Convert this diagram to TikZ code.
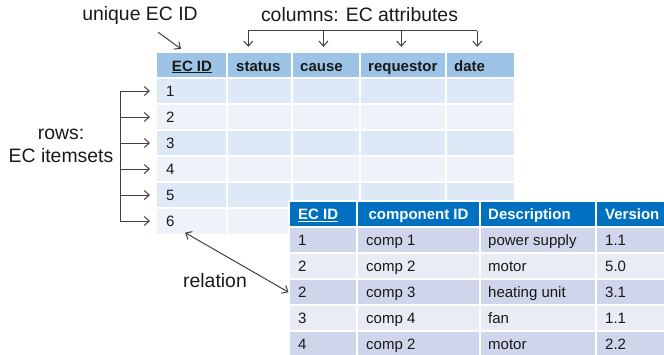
\documentclass[tikz,border=0pt]{standalone}
\usepackage{fontspec}
\setmainfont{Liberation Sans}
\usetikzlibrary{arrows.meta}
\definecolor{tophead}{HTML}{9DC3E6}
\definecolor{toprowA}{HTML}{DDE9F6}
\definecolor{toprowB}{HTML}{EEF3FA}
\definecolor{bothead}{HTML}{0070C0}
\definecolor{botrowA}{HTML}{CFD5EA}
\definecolor{botrowB}{HTML}{E9EBF5}
\definecolor{linegray}{HTML}{404040}
\tikzset{
	celltxt/.style={inner sep=0pt, anchor=west, text height=11pt, text depth=0pt, text=black!90, font=\fontsize{15}{18}\selectfont},
	headtxt/.style={celltxt, font=\fontsize{15}{18}\selectfont\bfseries},
	bighead/.style={headtxt, text=white},
	note/.style={inner sep=0pt, text=black!90, font=\fontsize{19.4}{23}\selectfont},
	gridline/.style={white, line width=1.5pt},
	conn/.style={linegray, line width=1pt},
	arr/.style={conn, -{Straight Barb[length=5pt,width=9pt]}},
}

\begin{document}
\begin{tikzpicture}[x=1pt, y=-1pt]
	%%%%% START %%%%%
	\useasboundingbox (0,0) rectangle (664,354);
	\clip (0,0) rectangle (664,354);
	
	% EC table
	\fill[tophead] (157,53) rectangle (514,78);
	\foreach \i in {1,...,6} {
		\pgfmathsetmacro\ya{52+26*\i}
		\ifodd\i \def\rc{toprowA}\else \def\rc{toprowB}\fi
		\fill[\rc] (157,\ya) rectangle (514,\ya+26);
	}
	\foreach \x in {227,292,360,446} \draw[gridline] (\x,53) -- (\x,234);
	\foreach \y in {78,104,130,156,182,208} \draw[gridline] (157,\y) -- (514,\y);
	
	\node[headtxt, anchor=center] (hid) at (192,65.5) {\underline{EC ID}};
	\node[headtxt] (hstatus) at (236,65.5) {status};
	\node[headtxt] (hcause) at (300,65.5) {cause};
	\node[headtxt] (hreq) at (368,65.5) {requestor};
	\node[headtxt] (hdate) at (454,65.5) {date};
	\foreach \i in {1,...,6}
		\node[celltxt] (r\i) at (166,65+26*\i) {\i};
	
	% component table
	\fill[bothead] (289,201) rectangle (664,227);
	\foreach \i in {1,...,5} {
		\pgfmathsetmacro\ya{201+26*\i}
		\ifodd\i \def\rc{botrowA}\else \def\rc{botrowB}\fi
		\fill[\rc] (289,\ya) rectangle (664,\ya+26);
	}
	\foreach \x in {357,480,596} \draw[gridline] (\x,201) -- (\x,357);
	\foreach \y in {227,253,279,305,331} \draw[gridline] (289,\y) -- (664,\y);
	\draw[gridline] (289,357) -- (289,201) -- (664,201);
	
	\node[bighead] (bid) at (298,214) {\underline{EC ID}};
	\node[bighead, anchor=center] (bcomp) at (418.5,214) {component ID};
	\node[bighead] (bdesc) at (488,214) {Description};
	\node[bighead] (bver) at (605,214) {Version};
	\foreach \id/\comp/\desc/\ver [count=\i] in {1/comp 1/power supply/1.1, 2/comp 2/motor/5.0, 2/comp 3/heating unit/3.1, 3/comp 4/fan/1.1, 4/comp 2/motor/2.2} {
		\node[celltxt] (b\i) at (298,214+26*\i) {\id};
		\node[celltxt] (bc\i) at (366,214+26*\i) {\comp};
		\node[celltxt] (bd\i) at (488,214+26*\i) {\desc};
		\node[celltxt] (bv\i) at (605,214+26*\i) {\ver};
	}
	
	% notes
	\node[note] (uid) at (140,15) {unique EC ID};
	\node[note] (cols) at (359.5,15) {columns: EC attributes};
	\node[note, align=center] (rowlab) at (61,146) {rows:\\EC itemsets};
	\node[note] (rel) at (215,281) {relation};
	
	\draw[arr] ([xshift=18pt,yshift=-8pt]uid.south) -- ([xshift=-11pt,yshift=11pt]hid.north);
	
	\draw[conn] ([xshift=-10pt,yshift=29pt]hstatus.north) -- ([xshift=7.6pt,yshift=29pt]hdate.north);
	\foreach \n/\dx in {hstatus/-10, hcause/2, hreq/-1.5, hdate/7.6}
		\draw[arr] ([xshift=\dx pt,yshift=29pt]\n.north) -- ([xshift=\dx pt,yshift=13pt]\n.north);
	
	\coordinate (rbr) at (120,0);
	\draw[conn] (rbr |- r1.west) -- (rbr |- r6.west);
	\foreach \i in {1,...,6}
		\draw[arr, shorten >=16pt] (rbr |- r\i.west) -- (r\i.west);
	
	\draw[conn, {Straight Barb[length=5pt,width=9pt]}-{Straight Barb[length=5pt,width=9pt]}, shorten <=12pt, shorten >=11pt] (r6.south east) -- (b3.south west);
	
	%%%%% END %%%%%
\end{tikzpicture}
\end{document}
